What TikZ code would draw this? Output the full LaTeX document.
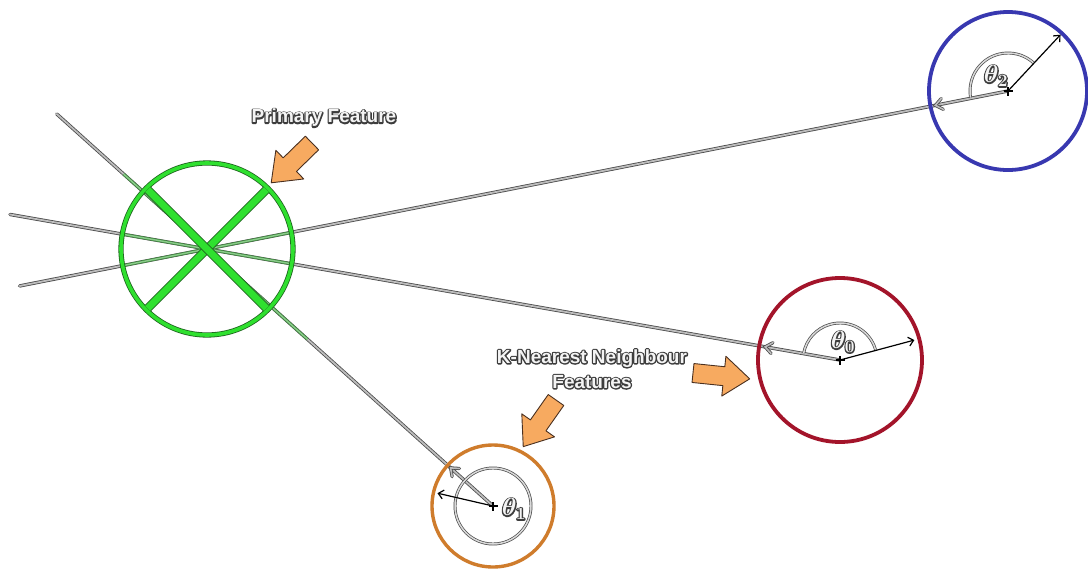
\documentclass[tikz,border=0pt]{standalone}
\usepackage{fontspec}
\usetikzlibrary{calc,arrows.meta,decorations.markings}
\newfontfamily\lblfont{Liberation Sans}

\definecolor{rayedge}{HTML}{4A4A4A}
\definecolor{rayfill}{HTML}{BDBDBD}
\definecolor{grnedge}{HTML}{1E641E}
\definecolor{grnfill}{HTML}{2FE02F}
\definecolor{grnray}{HTML}{3E8E3E}
\definecolor{grnrayfill}{HTML}{8CCB8C}
\definecolor{ringblue}{HTML}{3838B0}
\definecolor{ringred}{HTML}{A3142A}
\definecolor{ringorange}{HTML}{CF7C2C}
\definecolor{arrowfill}{HTML}{F7AA60}
\definecolor{arrowedge}{HTML}{4A3020}
\definecolor{lblfill}{HTML}{F4F4F4}

% light letters over a wide dark stroke of the same letters (PDF text render mode 1)
\newcommand{\outlined}[1]{%
  \rlap{\special{pdf:literal direct q 1 Tr 2.6 w 1 j 0.24 0.24 0.24 RG}#1\special{pdf:literal direct Q}}%
  \textcolor{lblfill}{#1}}

\tikzset{
  x=1pt, y=1pt,
  ray/.style={draw=rayedge, line width=0.8pt, double=rayfill, double distance=1.8pt, line cap=round},
  greenray/.style={draw=grnray, line width=0.7pt, double=grnrayfill, double distance=1.4pt},
  chevron at/.style={postaction={decorate}, decoration={markings,
      mark=at position #1 with {\draw[draw=rayedge, line width=0.8pt, double=rayfill,
        double distance=1.6pt, line join=miter] (-7,5.5) -- (0,0) -- (-7,-5.5);}}},
  greenstroke/.style={draw=grnedge, line width=0.8pt, double=grnfill},
  ring/.style={line width=3.8pt},
  radius arrow/.style={draw=black, line width=1.2pt, -{Straight Barb[length=5pt,width=9pt]}},
  anglearc/.style={draw=rayedge, line width=0.7pt, double=white!85!black, double distance=1.5pt},
  centremark/.style={draw=black, line width=1.3pt},
  arrowbody/.style={draw=arrowedge, line width=0.9pt, fill=arrowfill, line join=round},
  caption/.style={font=\lblfont\bfseries\fontsize{19}{25}\selectfont, align=center, inner sep=0pt},
  anglelabel/.style={font=\boldmath\fontsize{23}{23}\selectfont, inner sep=0pt},
  blockarrow/.pic={\draw[arrowbody] (0,-9.5) -- (31,-9.5) -- (31,-20) -- (57,0)
      -- (31,20) -- (31,9.5) -- (0,9.5) -- cycle;}
}

\begin{document}
\begin{tikzpicture}
  \fill[white] (0,0) rectangle (1088,-571);
  \useasboundingbox (0,0) rectangle (1088,-571);

  % feature centres
  \coordinate (g) at (207,-249);   % primary feature
  \coordinate (b) at (1008,-91);   % blue neighbour
  \coordinate (r) at (840,-360);   % red neighbour
  \coordinate (o) at (493,-506);   % orange neighbour

  % free ends of the rays beyond the primary feature
  \coordinate (o-end) at ($(g)!-202pt!(o)$);
  \coordinate (r-end) at ($(g)!-200pt!(r)$);
  \coordinate (b-end) at ($(g)!-191pt!(b)$);

  % rays from each neighbour through the primary feature
  \draw[ray, chevron at=57pt] (o) -- (g) -- (o-end);
  \draw[ray, chevron at=76pt] (r) -- (g) -- (r-end);
  \draw[ray, chevron at=74pt] (b) -- (g) -- (b-end);

  % green tint of the rays around the primary feature
  \coordinate (o-g1) at ($(g)!-112pt!(o)$);
  \coordinate (o-g2) at ($(g)!135pt!(o)$);
  \draw[greenray] (o-g1) -- (o-g2);
  \begin{scope}
    \clip (g) circle[radius=86];
    \draw[greenray] (r) -- (r-end);
    \draw[greenray] (b) -- (b-end);
  \end{scope}

  % primary feature: ring and cross
  \draw[greenstroke, double distance=3.6pt] (g) circle[radius=86];
  \coordinate (x1) at ($(g)+(45:84)$);
  \coordinate (x2) at ($(g)+(225:84)$);
  \coordinate (x3) at ($(g)+(135:84)$);
  \coordinate (x4) at ($(g)+(-45:84)$);
  \draw[greenstroke, double distance=7pt] (x1) -- (x2);
  \draw[greenstroke, double distance=7pt] (x3) -- (x4);

  % neighbour rings
  \draw[ring, draw=ringblue] (b) circle[radius=79];
  \draw[ring, draw=ringred] (r) circle[radius=82];
  \draw[ring, draw=ringorange, line width=3.4pt] (o) circle[radius=61];

  % orientation angles
  \draw[anglearc] ($(b)+(48:38)$) arc[start angle=48, end angle=190, radius=38];
  \draw[anglearc] ($(r)+(16:37)$) arc[start angle=16, end angle=169, radius=37];
  \draw[anglearc] (o) circle[radius=38];

  % orientation vectors
  \coordinate (b-tip) at ($(b)+(47:77)$);
  \coordinate (r-tip) at ($(r)+(15:77)$);
  \coordinate (o-tip) at ($(o)+(167:57)$);
  \draw[radius arrow] (b) -- (b-tip);
  \draw[radius arrow] (r) -- (r-tip);
  \draw[radius arrow] (o) -- (o-tip);

  % centre marks
  \foreach \c in {b,r,o} {
    \draw[centremark] ($(\c)+(-4.5,0)$) -- ($(\c)+(4.5,0)$);
    \draw[centremark] ($(\c)+(0,-4.5)$) -- ($(\c)+(0,4.5)$);
  }

  % angle labels
  \node[anglelabel] (t2) at (996,-76) {\outlined{$\theta_2$}};
  \node[anglelabel] (t0) at (843,-342) {\outlined{$\theta_0$}};
  \node[anglelabel] (t1) at (514,-509) {\outlined{$\theta_1$}};

  % captions
  \node[caption] (primary) at (324,-118) {\outlined{Primary Feature}};
  \node[caption] (knn) at (592,-369) {\outlined{K-Nearest Neighbour}\\ \outlined{Features}};

  % pointer arrows
  \pic[rotate=224.3] (pa) at (312,-143) {blockarrow};
  \pic[rotate=-5.9] (pb) at (693,-373) {blockarrow};
  \pic[rotate=234.9] (pc) at (556,-400) {blockarrow};
\end{tikzpicture}
\end{document}
